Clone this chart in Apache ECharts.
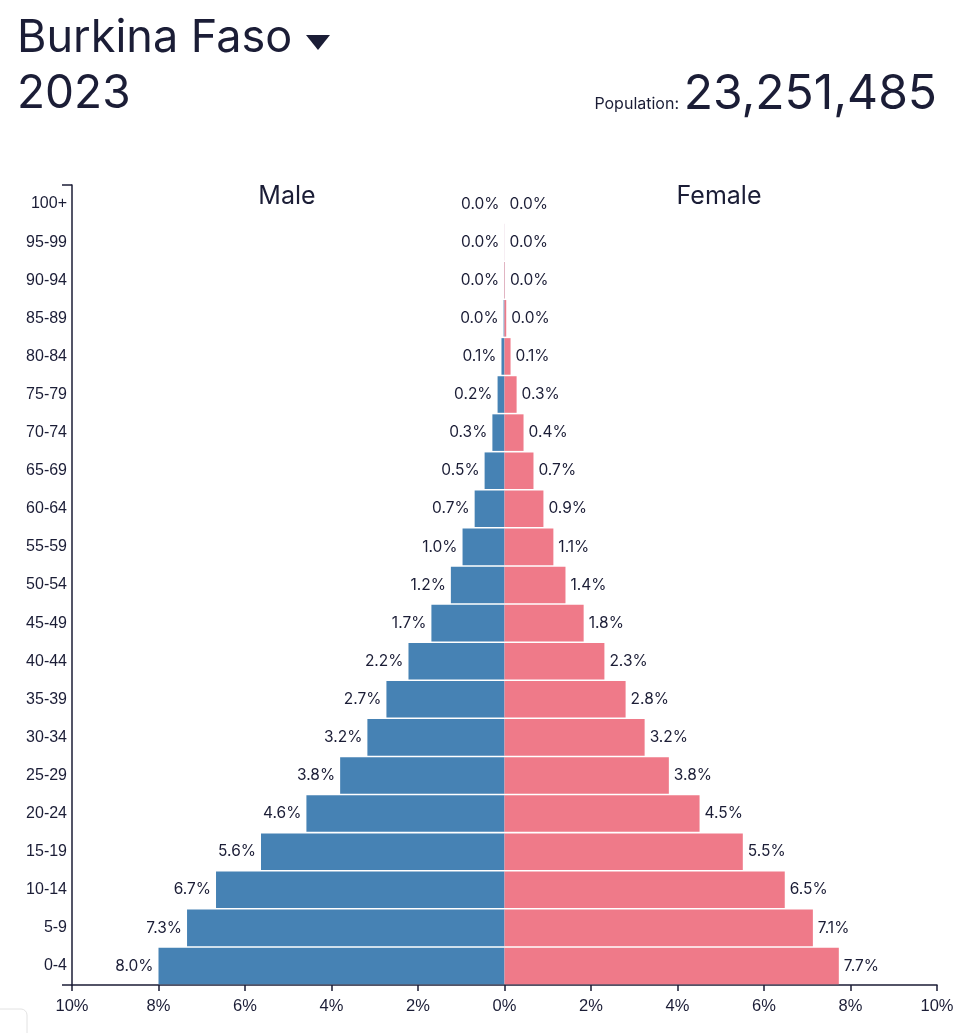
<!DOCTYPE html>
<html>
<head>
<meta charset="utf-8">
<script src="https://cdn.jsdelivr.net/npm/echarts@6/dist/echarts.min.js"></script>
<style>
html,body{margin:0;padding:0;background:#fff;}
#chart{width:967px;height:1033px;}
</style>
</head>
<body>
<div id="chart"></div>
<script>
const ageGroups = ['0-4','5-9','10-14','15-19','20-24','25-29','30-34','35-39','40-44','45-49','50-54','55-59','60-64','65-69','70-74','75-79','80-84','85-89','90-94','95-99','100+'];
const malePct = [8.0, 7.34, 6.67, 5.63, 4.58, 3.80, 3.17, 2.73, 2.22, 1.69, 1.24, 0.97, 0.69, 0.46, 0.28, 0.16, 0.07, 0.02, 0.005, 0.001, 0.0];
const femalePct = [7.73, 7.13, 6.48, 5.51, 4.51, 3.80, 3.24, 2.80, 2.31, 1.83, 1.41, 1.13, 0.90, 0.67, 0.44, 0.28, 0.14, 0.04, 0.01, 0.002, 0.0];
const xTicks = { min: -10, max: 10, interval: 2 };
const countryName = 'Burkina Faso';
const yearLabel = '2023';
const populationLabel = '23,251,485';

const ink = '#1b1d36';
const chart = echarts.init(document.getElementById('chart'));
const gridL = 72, gridR = 30, gridT = 185, gridB = 48;
const fmt = v => Math.abs(v).toFixed(1) + '%';

chart.setOption({
  animation: false,
  grid: { left: gridL, right: gridR, top: gridT, bottom: gridB, containLabel: false },
  xAxis: {
    type: 'value', min: xTicks.min, max: xTicks.max, interval: xTicks.interval,
    splitLine: { show: false },
    axisLine: { show: true, lineStyle: { color: ink, width: 1.5 } },
    axisTick: { show: true, length: 6, lineStyle: { color: ink, width: 1.5 } },
    axisLabel: { formatter: v => Math.abs(v) + '%', color: ink, fontSize: 16.5, fontFamily: 'Liberation Sans', margin: 13 }
  },
  yAxis: {
    type: 'category', data: ageGroups,
    axisLine: { show: true, onZero: false, lineStyle: { color: ink, width: 1.5 } },
    axisTick: { show: false },
    axisLabel: { color: ink, fontSize: 16, fontFamily: 'Liberation Sans', margin: 5 }
  },
  series: [
    {
      name: 'Male', type: 'bar', stack: 'pop', barCategoryGap: '4%',
      data: malePct.map(v => -v),
      itemStyle: { color: '#4682b4' },
      label: { show: true, position: 'left', distance: 5, formatter: p => fmt(p.value), color: ink, fontSize: 15.5, fontFamily: 'Inter' }
    },
    {
      name: 'Female', type: 'bar', stack: 'pop', barCategoryGap: '4%',
      data: femalePct,
      itemStyle: { color: '#ef7a89' },
      label: { show: true, position: 'right', distance: 5, formatter: p => fmt(p.value), color: ink, fontSize: 15.5, fontFamily: 'Inter' }
    }
  ],
  graphic: [
    { type: 'text', left: 17, top: 16, style: { text: countryName, font: '45px Inter', fill: ink } },
    { type: 'polygon', shape: { points: [[306, 35], [330, 35], [318, 50]] }, style: { fill: ink } },
    { type: 'text', left: 17, top: 71, style: { text: yearLabel, font: '46px Inter', fill: ink } },
    { type: 'text', right: 30, top: 71, style: { text: populationLabel, font: '48px Inter', fill: ink } },
    { type: 'text', x: 679, y: 112, style: { text: 'Population:', font: '16px Inter', fill: ink, align: 'right', verticalAlign: 'bottom' } },
    { type: 'text', x: 287, y: 196, style: { text: 'Male', font: '25px Inter', fill: ink, align: 'center', verticalAlign: 'middle' } },
    { type: 'text', x: 719, y: 196, style: { text: 'Female', font: '25px Inter', fill: ink, align: 'center', verticalAlign: 'middle' } },
    { type: 'line', shape: { x1: gridL - 10, y1: gridT, x2: gridL, y2: gridT }, style: { stroke: ink, lineWidth: 1.5 } },
    { type: 'line', shape: { x1: gridL - 10, y1: 1033 - gridB, x2: gridL, y2: 1033 - gridB }, style: { stroke: ink, lineWidth: 1.5 } },
    { type: 'rect', shape: { x: -10, y: 1009, width: 37, height: 40, r: 6 }, style: { fill: '#fff', stroke: '#e2e2e2', lineWidth: 1 } }
  ]
});
</script>
</body>
</html>
